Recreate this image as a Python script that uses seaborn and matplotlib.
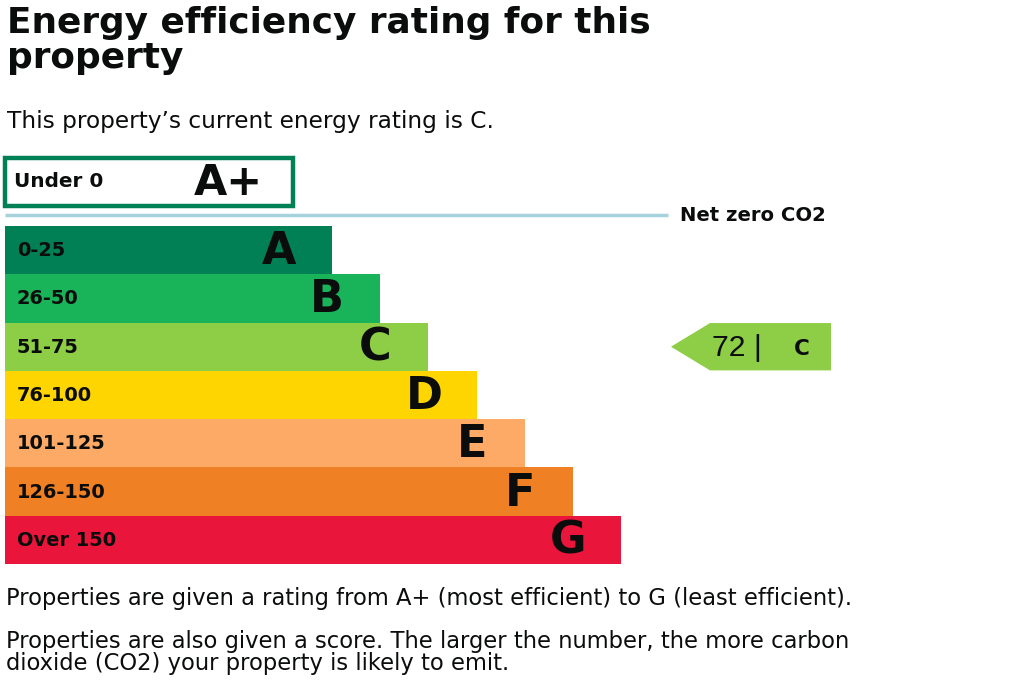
import matplotlib
matplotlib.use("Agg")
import matplotlib.pyplot as plt
import seaborn as sns
from matplotlib.patches import Polygon

# ---- data ----
bands = ["A", "B", "C", "D", "E", "F", "G"]
ranges = ["0-25", "26-50", "51-75", "76-100", "101-125", "126-150", "Over 150"]
bar_length = [327, 375, 423, 472, 520, 568, 616]
band_colors = ["#008054", "#19b459", "#8dce46", "#ffd500", "#fcaa65", "#ef8023", "#e9153b"]
top_band = "A+"
top_range = "Under 0"
top_length = 288
current_score = 72
current_rating = "C"

title_lines = ["Energy efficiency rating for this", "property"]
subtitle = "This property\u2019s current energy rating is C."
footer_lines = ["Properties are given a rating from A+ (most efficient) to G (least efficient).",
                "Properties are also given a score. The larger the number, the more carbon",
                "dioxide (CO2) your property is likely to emit."]

sns.set_theme(style="white")
plt.rcParams["font.family"] = ["DejaVu Sans"]

W, H = 1024, 683
fig = plt.figure(figsize=(W / 100, H / 100), dpi=100)
fig.patch.set_facecolor("white")
renderer = fig.canvas.get_renderer()

TXT = "#0b0c0c"
PX = 100 / 72.0
CAP = {"DejaVu Sans": 0.729, "Liberation Sans": 0.716}


def px_axes(x0, y0, x1, y1):
    return fig.add_axes([x0 / W, 1 - y1 / H, (x1 - x0) / W, (y1 - y0) / H])


def fit_size(s, cap_px, target_w, family="DejaVu Sans", weight="normal", k=0.6):
    fs = cap_px / (CAP[family] * PX)
    t = fig.text(0, 0, s, fontsize=fs, family=family, fontweight=weight)
    w = t.get_window_extent(renderer).width
    t.remove()
    return fs * (target_w / w) ** k


# ---- rating bands ----
row_px = (564 - 226) / len(bands)
bax = px_axes(5, 226, W, 564)
sns.barplot(x=bar_length, y=bands, hue=bands, palette=band_colors, width=1.0,
            legend=False, orient="h", ax=bax, saturation=1, linewidth=0)
bax.set_xlim(0, W - 5)
bax.set_ylim(len(bands) - 0.5, -0.5)
bax.axis("off")

fs_range = fit_size("Over 150", 11.5, 108, weight="bold", k=0.7)
fs_letter = fit_size("A", 27, 43, weight="bold", k=0.45)
for i, (b, r, L) in enumerate(zip(bands, ranges, bar_length)):
    bax.text(12, i + 6 / row_px, r, fontsize=fs_range, fontweight="bold",
             color=TXT, ha="left", va="baseline")
    bax.text(L - 53, i + 14 / row_px, b, fontsize=fs_letter, fontweight="bold",
             color=TXT, ha="center", va="baseline")

# current score pointer
ci = bands.index(current_rating)
tip, body_left, body_right, hh = 666, 705, 826, 0.49
bax.add_patch(Polygon([(tip, ci), (body_left, ci - hh), (body_right, ci - hh),
                       (body_right, ci + hh), (body_left, ci + hh)],
                      closed=True, facecolor=band_colors[ci], edgecolor="none",
                      clip_on=False))
fs_score = fit_size(f"{current_score} |", 18, 56, family="Liberation Sans")
bax.text(707, ci + 9 / row_px, f"{current_score} |", fontsize=fs_score,
         family="Liberation Sans", color=TXT, ha="left", va="baseline")
fs_cur = fit_size(current_rating, 13, 20, weight="bold", k=0.45)
bax.text(797, ci + 8 / row_px, current_rating, fontsize=fs_cur, fontweight="bold",
         color=TXT, ha="center", va="baseline")

# ---- A+ band ----
tax = px_axes(5, 150, W, 214)
sns.barplot(x=[top_length], y=[top_band], color="white", width=0.75,
            orient="h", ax=tax, edgecolor="#008054", linewidth=3.2, saturation=1)
tax.set_xlim(0, W - 5)
tax.set_ylim(0.5, -0.5)
tax.axis("off")
for p in tax.patches:
    p.set_clip_on(False)

# ---- text & net-zero line ----
ov = fig.add_axes([0, 0, 1, 1])
ov.set_xlim(0, W)
ov.set_ylim(H, 0)
ov.axis("off")

fs_under = fit_size(top_range, 12, 97, weight="bold", k=0.7)
ov.text(14, 187, top_range, fontsize=fs_under, fontweight="bold", color=TXT,
        ha="left", va="baseline")
fs_ap = fit_size(top_band, 28, 80, weight="bold", k=0.45)
ov.text(228, 195, top_band, fontsize=fs_ap, fontweight="bold", color=TXT,
        ha="center", va="baseline")

ov.hlines(215, 5, 668, color="#a6d2dc", linewidth=2.5)
fs_nz = fit_size("Net zero CO2", 12, 158, weight="bold", k=0.7)
ov.text(680, 221, "Net zero CO2", fontsize=fs_nz, fontweight="bold", color=TXT,
        ha="left", va="baseline")

fs_title = fit_size(title_lines[0], 21, 800, weight="bold", k=0.5)
ov.text(7, 33, title_lines[0], fontsize=fs_title, fontweight="bold", color=TXT,
        ha="left", va="baseline")
ov.text(7, 68, title_lines[1], fontsize=fs_title, fontweight="bold", color=TXT,
        ha="left", va="baseline")

fs_sub = fit_size(subtitle, 15, 532)
ov.text(7, 128, subtitle, fontsize=fs_sub, color=TXT, ha="left", va="baseline")

fs_foot = fit_size(footer_lines[0], 13.5, 962)
for line, yb in zip(footer_lines, [605, 648, 670]):
    ov.text(6, yb, line, fontsize=fs_foot, color=TXT, ha="left", va="baseline")

fig.savefig("out.png", dpi=100, facecolor="white")
